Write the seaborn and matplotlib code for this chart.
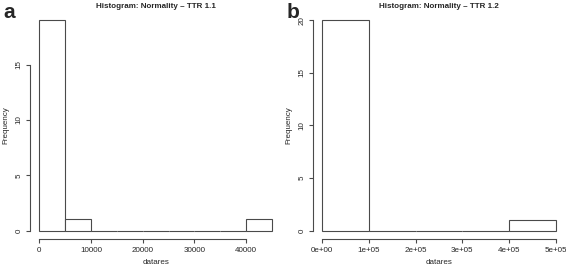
import matplotlib
matplotlib.use("Agg")
import matplotlib.pyplot as plt
import seaborn as sns
import numpy as np

# --- DATA ---
edges_11 = [0, 5000, 10000, 15000, 20000, 25000, 30000, 35000, 40000, 45000]
counts_11 = [19, 1, 0, 0, 0, 0, 0, 0, 1]
xticks_11 = [0, 10000, 20000, 30000, 40000]
xticklabels_11 = ["0", "10000", "20000", "30000", "40000"]
yticks_11 = [0, 5, 10, 15]

edges_12 = [0, 100000, 200000, 300000, 400000, 500000]
counts_12 = [20, 0, 0, 0, 1]
xticks_12 = [0, 100000, 200000, 300000, 400000, 500000]
xticklabels_12 = ["0e+00", "1e+05", "2e+05", "3e+05", "4e+05", "5e+05"]
yticks_12 = [0, 5, 10, 15, 20]

titles = ["Histogram: Normality \u2013 TTR 1.1", "Histogram: Normality \u2013 TTR 1.2"]
panel_labels = ["a", "b"]

# --- STYLE ---
sns.set_style("ticks")
plt.rcParams['font.family'] = ['Liberation Sans', 'DejaVu Sans']
line_col = "#4a4a4a"

fig = plt.figure(figsize=(5.66, 2.67), dpi=100)
ax1 = fig.add_axes([0.053, 0.105, 0.444, 0.850])
ax2 = fig.add_axes([0.553, 0.105, 0.445, 0.850])

panels = [
    (ax1, edges_11, counts_11, xticks_11, xticklabels_11, yticks_11),
    (ax2, edges_12, counts_12, xticks_12, xticklabels_12, yticks_12),
]

for i, (ax, edges, counts, xt, xtl, yt) in enumerate(panels):
    mids = [(a + b) / 2 for a, b in zip(edges[:-1], edges[1:])]
    sns.histplot(x=mids, weights=counts, bins=edges, ax=ax,
                 color="white", edgecolor=line_col, linewidth=0.8, alpha=1)
    span = edges[-1] - edges[0]
    ax.set_xlim(edges[0] - 0.04 * span, edges[-1] + 0.04 * span)
    ymax = max(counts)
    ax.set_ylim(-0.04 * ymax, ymax * 1.04)
    ax.set_xticks(xt)
    ax.set_xticklabels(xtl, fontsize=5.8)
    ax.set_yticks(yt)
    ax.set_yticklabels([str(v) for v in yt], fontsize=5.8, rotation=90, va="center")
    for s in ["top", "right"]:
        ax.spines[s].set_visible(False)
    ax.spines["left"].set_bounds(yt[0], yt[-1])
    ax.spines["bottom"].set_bounds(xt[0], xt[-1])
    for s in ["left", "bottom"]:
        ax.spines[s].set_color(line_col)
        ax.spines[s].set_linewidth(0.8)
    ax.tick_params(length=3, width=0.8, color=line_col, pad=2.5)
    ax.set_xlabel("datares", fontsize=5.8, labelpad=4)
    ax.set_ylabel("Frequency", fontsize=5.8, labelpad=4)
    ax.set_title(titles[i], fontsize=5.8, fontweight="bold", pad=3)

fig.text(0.006, 0.99, panel_labels[0], fontsize=15, fontweight="bold", va="top", ha="left")
fig.text(0.506, 0.99, panel_labels[1], fontsize=15, fontweight="bold", va="top", ha="left")

plt.savefig("out.png", dpi=100)
plt.close()
